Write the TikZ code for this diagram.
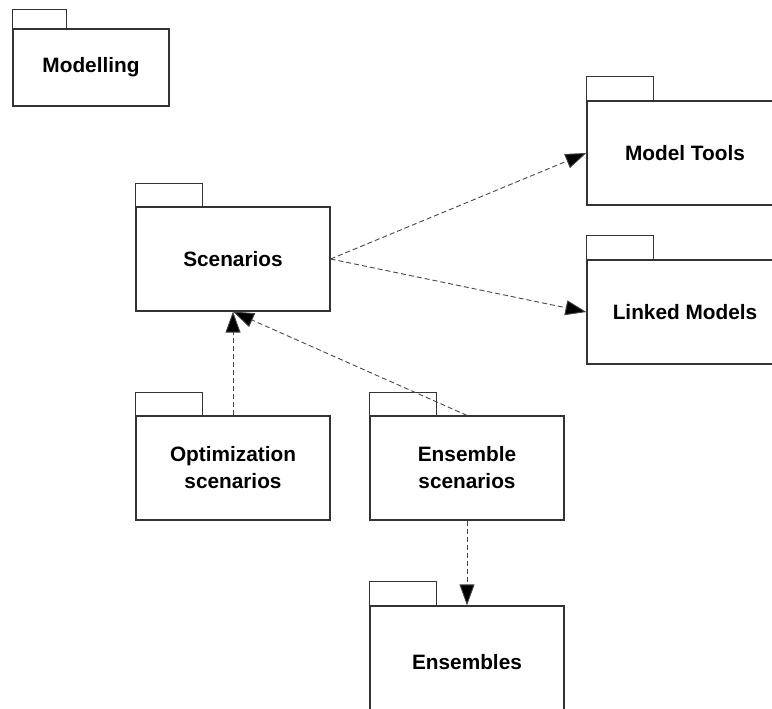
\documentclass[tikz,border=0pt]{standalone}
\usepackage{fontspec}
\setmainfont{Liberation Sans}
\usetikzlibrary{arrows.meta}
\definecolor{edge}{HTML}{333333}
\tikzset{
  pkg/.style={draw=edge, line width=1.2pt, fill=white, inner sep=0pt,
    minimum width=194pt, minimum height=104pt, align=center,
    font=\fontsize{20.8}{27}\selectfont\bfseries},
  pkgtab/.style={draw=edge, line width=1.2pt, fill=white},
  dep/.style={draw=edge!90, line width=0.9pt, dash pattern=on 5pt off 3pt,
    -{Triangle[length=21pt, width=15pt, fill=black]}}
}
\newcommand{\pkgtab}[2]{\draw[pkgtab] (#1.north west) rectangle ++(67,-#2);}
\begin{document}
\begin{tikzpicture}[x=1pt, y=-1pt]
  \useasboundingbox (0,0) rectangle (772,709);
  \clip (0,0) rectangle (772,709);

  % packages
  \node[pkg, minimum width=156pt, minimum height=77pt] (modelling) at (91,67.5) {Modelling};
  \draw[pkgtab] (modelling.north west) rectangle ++(54,-19);

  \node[pkg] (scen) at (233,259) {Scenarios};
  \pkgtab{scen}{23}

  \node[pkg, minimum width=196pt] (tools) at (685,153) {Model Tools};
  \pkgtab{tools}{24}

  \node[pkg, minimum width=196pt] (linked) at (685,312) {Linked Models};
  \pkgtab{linked}{24}

  \node[pkg] (opt) at (233,468) {Optimization\\scenarios};
  \pkgtab{opt}{23}

  \node[pkg] (ensc) at (467,468) {Ensemble\\scenarios};
  \pkgtab{ensc}{23}

  \node[pkg, minimum height=112pt] (ens) at (467,662) {Ensembles};
  \pkgtab{ens}{24}

  % dependencies
  \draw[dep] (scen.east) -- (tools.west);
  \draw[dep] (scen.east) -- (linked.west);
  \draw[dep] (opt.north) -- (scen.south);
  \draw[dep] (ensc.north) -- (scen.south);
  \draw[dep] (ensc.south) -- (ens.north);
\end{tikzpicture}
\end{document}
